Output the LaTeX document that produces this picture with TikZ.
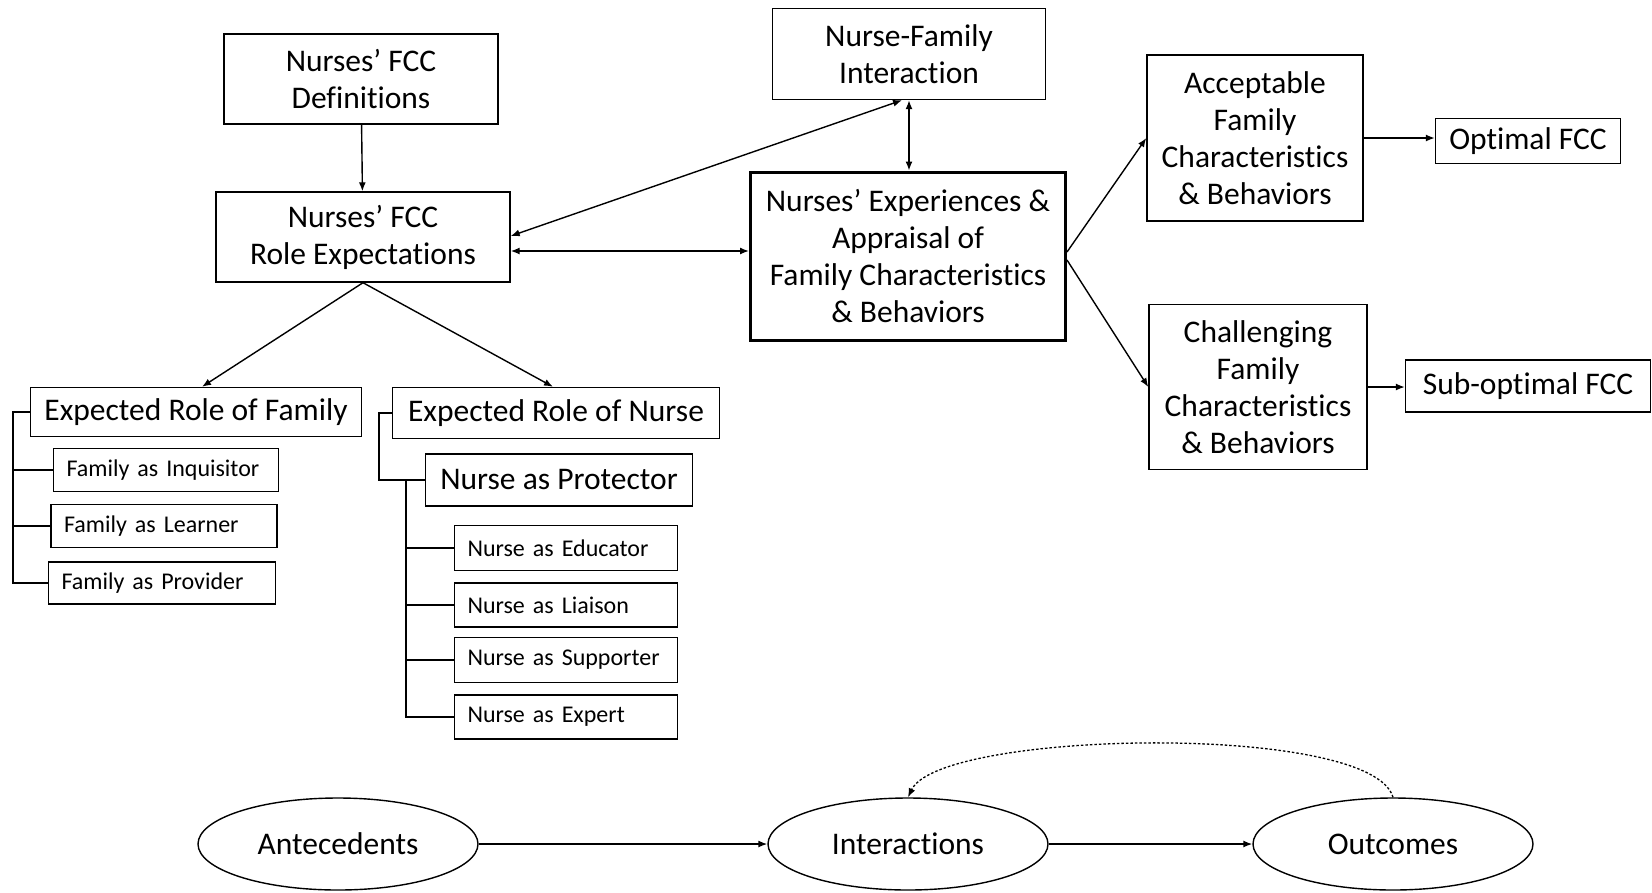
\documentclass[tikz,border=0pt]{standalone}
\usepackage{fontspec}
\setmainfont{Carlito}[Ligatures={NoCommon}]
\usetikzlibrary{arrows.meta,shapes.geometric,calc}
\begin{document}
\begin{tikzpicture}[x=1pt,y=-1pt,
  box/.style={draw, line width=1.4pt, align=center, inner sep=0pt, font=\fontsize{31.5}{37}\selectfont},
  sbox/.style={draw, line width=1.4pt, inner ysep=0pt, inner xsep=13pt, minimum height=43pt, align=left, font=\fontsize{24}{29}\selectfont},
  oval/.style={draw, ellipse, line width=1.4pt, minimum width=280pt, minimum height=92pt, inner sep=0pt, font=\fontsize{31.5}{37}\selectfont},
  arr/.style={line width=1.4pt, -{Latex[length=9pt,width=7pt]}},
  darr/.style={line width=1.4pt, {Latex[length=9pt,width=7pt]}-{Latex[length=9pt,width=7pt]}},
  ln/.style={line width=1.4pt}]
\useasboundingbox (0,0) rectangle (1652,892);

% top boxes
\node[box, minimum width=274pt, minimum height=90pt] (def) at (361,79) {Nurses’ FCC\\Definitions};
\node[box, minimum width=294pt, minimum height=90pt] (re) at (363,237) {Nurses’ FCC\\Role Expectations};
\node[box, minimum width=273pt, minimum height=91pt] (nf) at (909,54) {Nurse-Family\\Interaction};
\node[box, line width=3pt, minimum width=315pt, minimum height=168pt] (cen) at (908,256) {Nurses’ Experiences \&\\Appraisal of\\Family Characteristics\\\& Behaviors};
\node[box, minimum width=216pt, minimum height=166pt] (acc) at (1255,138) {Acceptable\\Family\\Characteristics\\\& Behaviors};
\node[box, minimum width=185pt, minimum height=45pt] (opt) at (1528,141) {Optimal FCC};
\node[box, minimum width=218pt, minimum height=165pt] (cha) at (1258,387) {Challenging\\Family\\Characteristics\\\& Behaviors};
\node[box, minimum width=245pt, minimum height=52pt] (sub) at (1528,386) {Sub-optimal FCC};

% role boxes
\node[box, minimum width=331pt, minimum height=49pt] (erf) at (196,412) {Expected Role of Family};
\node[box, minimum width=327pt, minimum height=51pt] (ern) at (556,413) {Expected Role of Nurse};
\node[sbox, text width=199pt] (inq) at (166,470) {Family as Inquisitor};
\node[sbox, text width=200pt] (lea) at (164,526) {Family as Learner};
\node[sbox, text width=201pt, minimum height=42pt] (prv) at (162,583) {Family as Provider};
\node[box, minimum width=267pt, minimum height=52pt] (pro) at (559,480) {Nurse as Protector};
\node[sbox, text width=197pt, minimum height=45pt] (edu) at (566,548) {Nurse as Educator};
\node[sbox, text width=197pt, minimum height=44pt] (lia) at (566,605) {Nurse as Liaison};
\node[sbox, text width=197pt, minimum height=45pt] (sup) at (566,660) {Nurse as Supporter};
\node[sbox, text width=197pt, minimum height=44pt] (xpt) at (566,717) {Nurse as Expert};

% ellipses
\node[oval] (nant) at (338,844) {Antecedents};
\node[oval] (nint) at (908,844) {Interactions};
\node[oval] (nout) at (1393,844) {Outcomes};

% connectors
\draw[arr] (def) -- (re);
\draw[arr] (re.south) -- ([xshift=6pt]erf.north);
\draw[arr] (re.south) -- ([xshift=-3pt]ern.north);
\draw[darr] ([yshift=-14pt]re.east) -- ([yshift=-14pt]re.east -| cen.west);
\draw[darr] ([yshift=1pt]re.east) -- ([xshift=-7pt]nf.south);
\draw[darr] (nf.south) -- (nf.south |- cen.north);
\draw[arr] ([yshift=4pt]cen.east) -- (acc.west);
\draw[arr] ([yshift=-4pt]cen.east) -- (cha.west);
\draw[arr] (acc.east) -- (acc.east -| opt.west);
\draw[arr] (cha.east) -- (cha.east -| sub.west);

% family bracket
\coordinate (fb) at (13,0);
\draw[ln] (erf.west) -- (erf.west -| fb) |- (prv.west);
\draw[ln] (inq.west -| fb) -- (inq.west);
\draw[ln] (lea.west -| fb) -- (lea.west);

% nurse bracket
\coordinate (nb) at (379,0);
\coordinate (nb2) at (406,0);
\draw[ln] (ern.west) -- (ern.west -| nb) |- (pro.west);
\draw[ln] (pro.west -| nb2) |- (xpt.west);
\draw[ln] (edu.west -| nb2) -- (edu.west);
\draw[ln] (lia.west -| nb2) -- (lia.west);
\draw[ln] (sup.west -| nb2) -- (sup.west);

% bottom
\draw[arr] (nant) -- (nint);
\draw[arr] (nint) -- (nout);
\draw[line width=1.3pt, dash pattern=on 2.5pt off 2pt, -{Latex[length=9pt,width=7pt]}] (nout.north) .. controls (1372,722) and (940,730) .. (nint.north);
\end{tikzpicture}
\end{document}
